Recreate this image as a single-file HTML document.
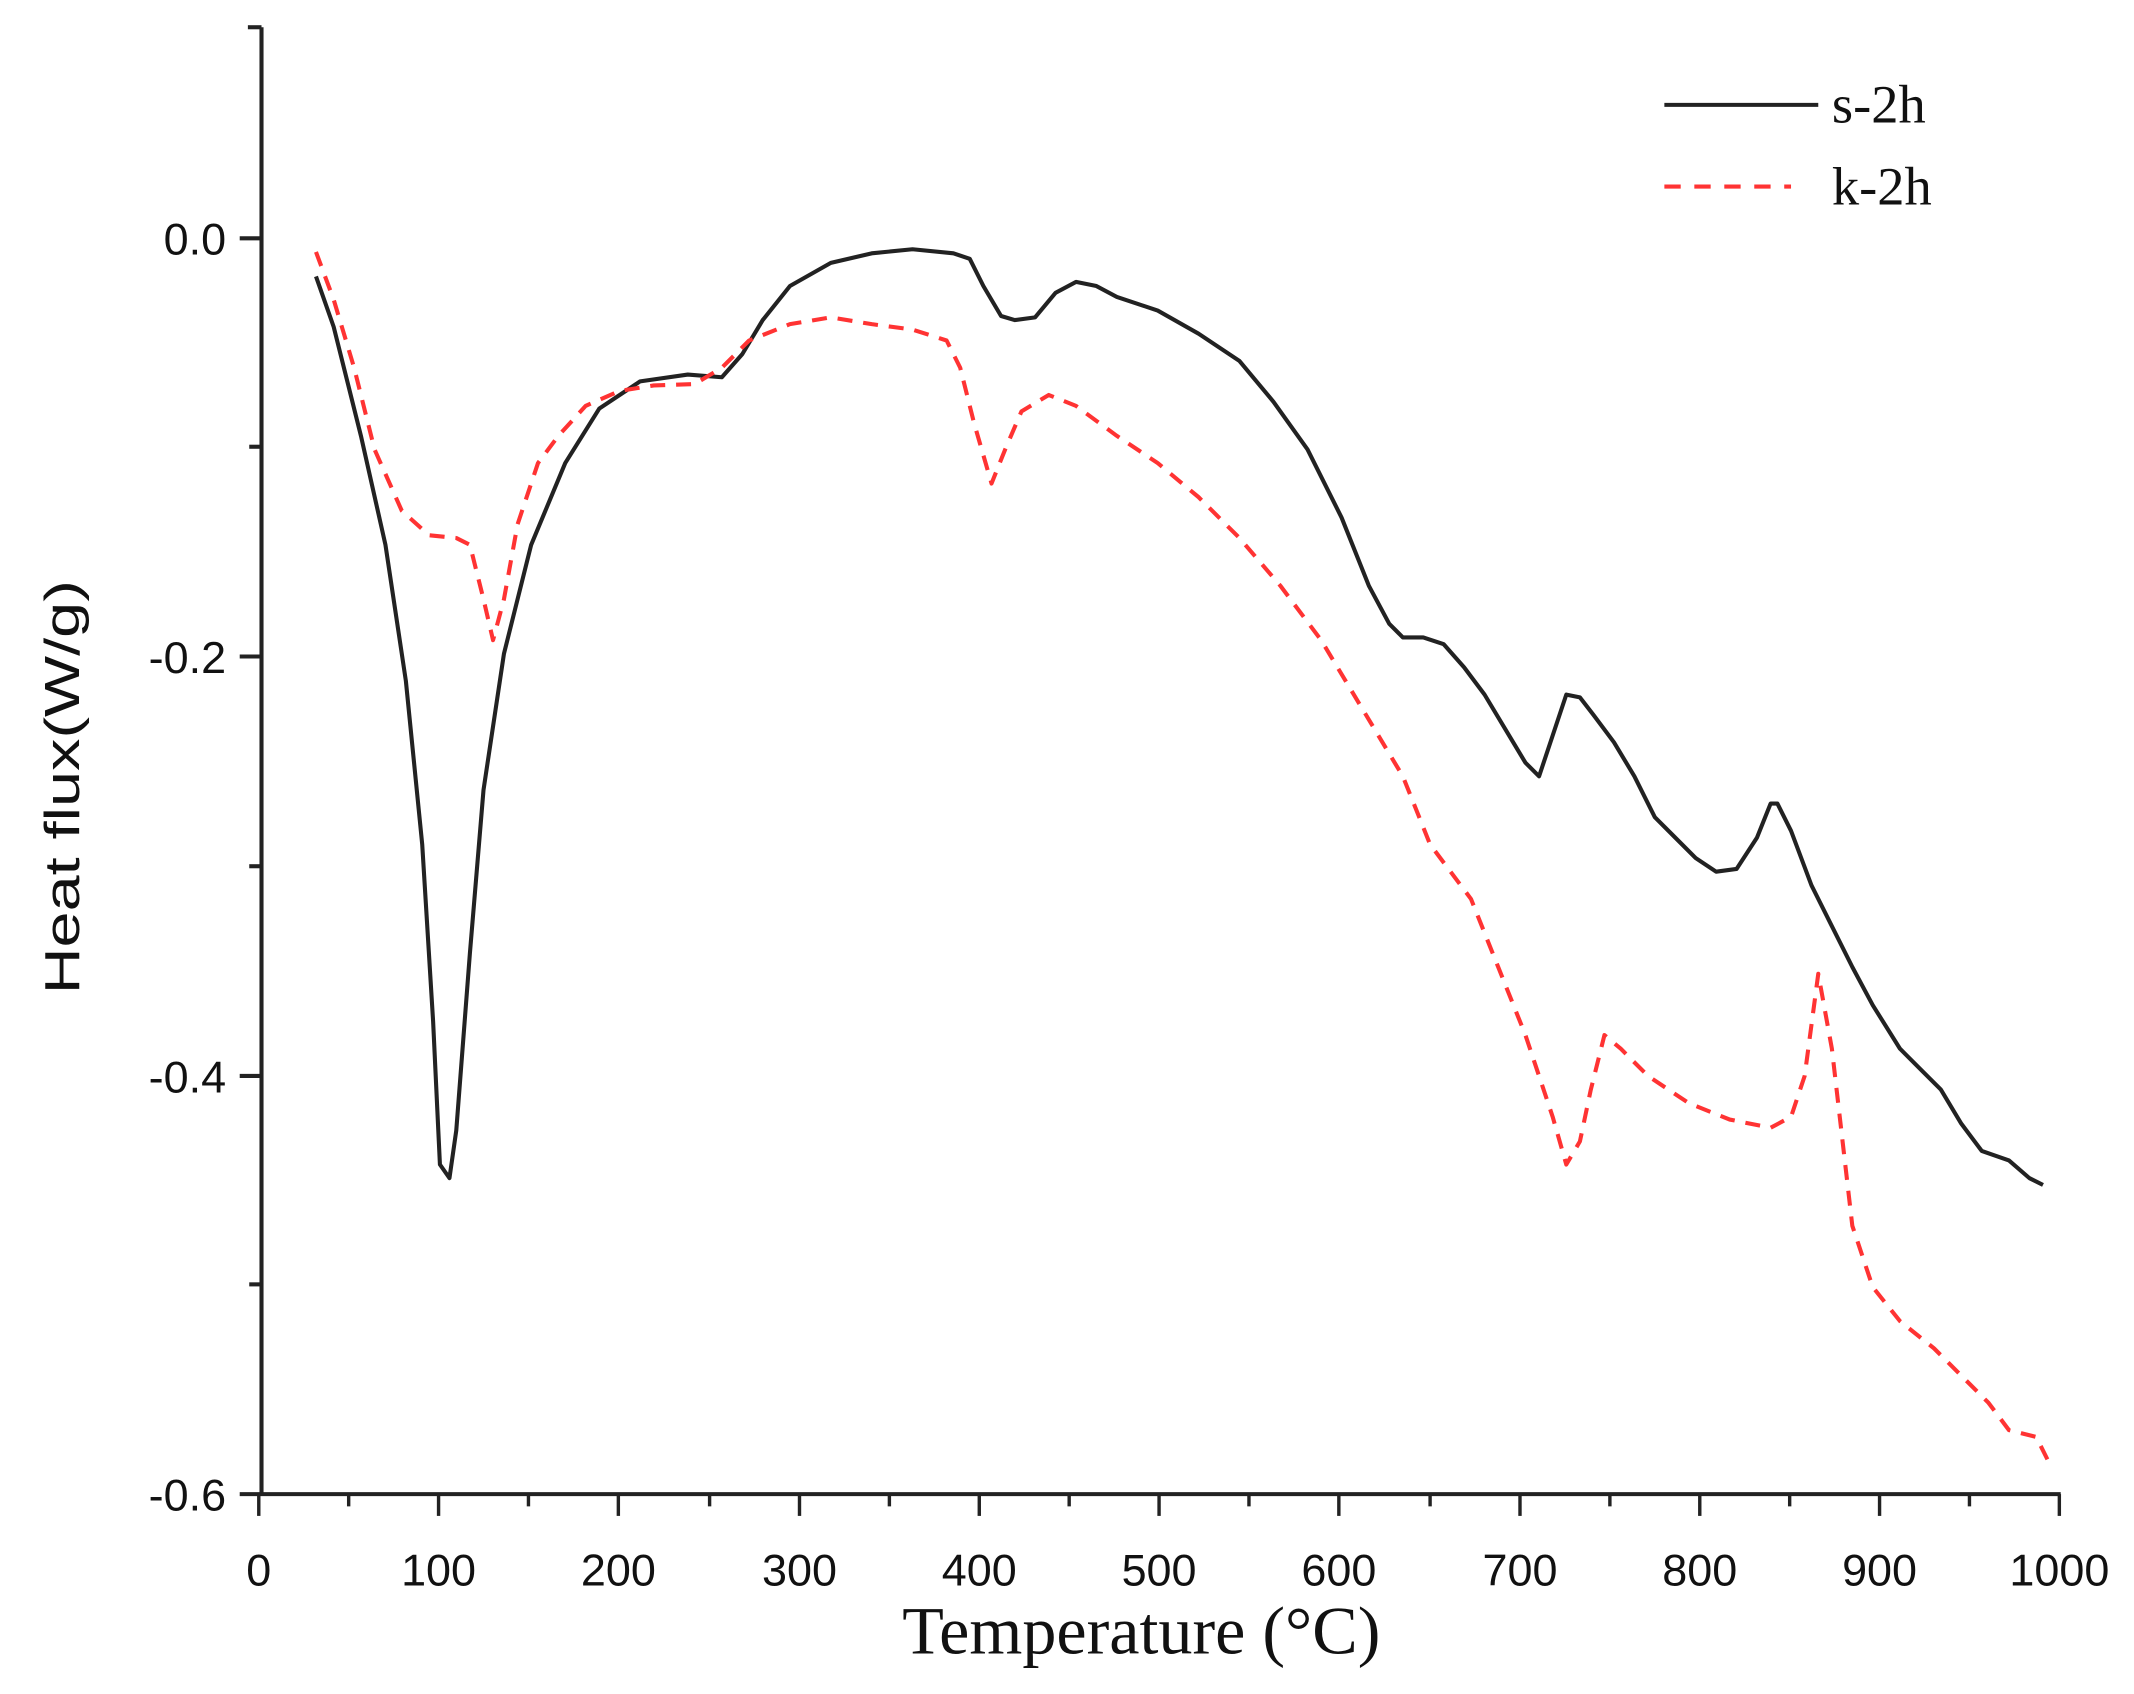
<!DOCTYPE html>
<html><head><meta charset="utf-8"><style>html,body{margin:0;padding:0;background:#fff;}svg{display:block}</style></head>
<body>
<svg width="2134" height="1694" viewBox="0 0 2134 1694" xmlns="http://www.w3.org/2000/svg">
<g transform="scale(1.362)">
<g stroke="#222" stroke-width="3" fill="none">
<line x1="192" y1="20" x2="192" y2="1097"/>
<line x1="192" y1="1097" x2="1513" y2="1097"/>
<line x1="182" y1="20" x2="192" y2="20"/>
<line x1="176" y1="175" x2="192" y2="175"/>
<line x1="183" y1="328" x2="192" y2="328"/>
<line x1="176" y1="482" x2="192" y2="482"/>
<line x1="183" y1="636" x2="192" y2="636"/>
<line x1="176" y1="790" x2="192" y2="790"/>
<line x1="183" y1="943" x2="192" y2="943"/>
<line x1="176" y1="1097" x2="192" y2="1097"/>
</g>
<g font-family="Liberation Sans, Arial, sans-serif" font-size="33" fill="#111" text-anchor="end">
<text x="166" y="187">0.0</text>
<text x="166" y="494">-0.2</text>
<text x="166" y="802">-0.4</text>
<text x="166" y="1109">-0.6</text>
</g>
<g font-family="Liberation Sans, Arial, sans-serif" font-size="33" fill="#111" text-anchor="middle">
<text x="190" y="1164">0</text><text x="322" y="1164">100</text><text x="454" y="1164">200</text><text x="587" y="1164">300</text><text x="719" y="1164">400</text><text x="851" y="1164">500</text><text x="983" y="1164">600</text><text x="1116" y="1164">700</text><text x="1248" y="1164">800</text><text x="1380" y="1164">900</text><text x="1512" y="1164">1000</text>
</g>
<text x="838" y="1214" font-family="Liberation Serif, serif" font-size="50" text-anchor="middle" fill="#111">Temperature (°C)</text>
<text transform="translate(58,578) rotate(-90)" font-family="Liberation Sans, Arial, sans-serif" font-size="36" text-anchor="middle" fill="#111" textLength="304" lengthAdjust="spacingAndGlyphs">Heat flux(W/g)</text>
<line x1="1222" y1="77" x2="1335" y2="77" stroke="#222" stroke-width="3"/>
<line x1="1222" y1="137" x2="1315" y2="137" stroke="#f33" stroke-width="3" stroke-dasharray="12,10"/>
<g font-family="Liberation Serif, serif" font-size="40" fill="#111">
<text x="1345" y="90">s-2h</text>
<text x="1345" y="150">k-2h</text>
</g>
<polyline fill="none" stroke="#222" stroke-width="3" stroke-linejoin="round" points="232,203 245,240 265,320 283,400 298,500 310,620 318,750 323,855 330,865 335,830 345,700 355,580 370,480 390,400 415,340 440,300 470,280 505,275 530,277 545,260 560,235 580,210 610,193 640,186 670,183 700,186 712,190 722,210 735,232 745,235 760,233 775,215 790,207 805,210 820,218 850,228 880,245 910,265 935,295 960,330 985,380 1005,430 1020,458 1030,468 1045,468 1060,473 1075,490 1090,510 1105,535 1120,560 1130,570 1140,540 1150,510 1160,512 1170,525 1185,545 1200,570 1215,600 1230,615 1245,630 1260,640 1275,638 1290,615 1300,590 1305,590 1315,610 1330,650 1345,680 1360,710 1375,738 1395,770 1410,785 1425,800 1440,825 1455,845 1475,852 1490,865 1500,870"/>
<polyline fill="none" stroke="#f33" stroke-width="3" stroke-dasharray="11,8" stroke-linejoin="round" points="232,185 245,220 260,270 275,330 295,375 315,393 335,395 345,400 355,440 362,470 370,440 380,385 395,340 410,320 430,298 455,287 480,283 510,282 530,270 550,250 580,238 610,233 640,238 670,242 695,250 705,270 715,310 728,355 738,330 750,302 770,290 790,298 820,320 850,340 880,365 910,395 940,430 970,470 1000,520 1030,570 1050,620 1065,640 1080,660 1100,710 1120,760 1140,820 1150,855 1160,838 1168,800 1178,760 1190,770 1210,790 1240,810 1270,822 1300,828 1315,820 1325,790 1335,715 1345,770 1360,900 1375,945 1395,970 1420,990 1440,1010 1460,1030 1475,1050 1495,1055 1505,1075"/>
<g stroke="#222" stroke-width="2.5">
<line x1="190" y1="1097" x2="190" y2="1113"/><line x1="256" y1="1097" x2="256" y2="1106"/>
<line x1="322" y1="1097" x2="322" y2="1113"/><line x1="388" y1="1097" x2="388" y2="1106"/>
<line x1="454" y1="1097" x2="454" y2="1113"/><line x1="521" y1="1097" x2="521" y2="1106"/>
<line x1="587" y1="1097" x2="587" y2="1113"/><line x1="653" y1="1097" x2="653" y2="1106"/>
<line x1="719" y1="1097" x2="719" y2="1113"/><line x1="785" y1="1097" x2="785" y2="1106"/>
<line x1="851" y1="1097" x2="851" y2="1113"/><line x1="917" y1="1097" x2="917" y2="1106"/>
<line x1="983" y1="1097" x2="983" y2="1113"/><line x1="1050" y1="1097" x2="1050" y2="1106"/>
<line x1="1116" y1="1097" x2="1116" y2="1113"/><line x1="1182" y1="1097" x2="1182" y2="1106"/>
<line x1="1248" y1="1097" x2="1248" y2="1113"/><line x1="1314" y1="1097" x2="1314" y2="1106"/>
<line x1="1380" y1="1097" x2="1380" y2="1113"/><line x1="1446" y1="1097" x2="1446" y2="1106"/>
<line x1="1512" y1="1097" x2="1512" y2="1113"/>
</g>
</g>
</svg>
</body></html>
